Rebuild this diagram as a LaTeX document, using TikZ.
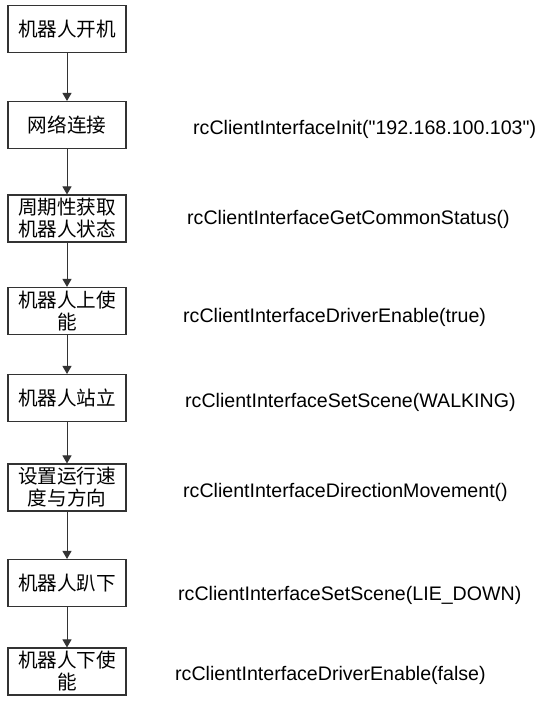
\documentclass[tikz,border=0pt]{standalone}
\usepackage{fontspec}
\setmainfont{Liberation Sans}
\newfontfamily\cjk{Noto Sans CJK SC}
\usetikzlibrary{arrows.meta}
\definecolor{linegray}{HTML}{333333}
\begin{document}
\begin{tikzpicture}[x=1pt,y=-1pt,
  stepbox/.style={draw=linegray, line width=1.1pt, fill=white, minimum width=118pt, minimum height=47pt,
    inner sep=0pt, align=center, font=\cjk\fontsize{19.6pt}{22pt}\selectfont},
  flow/.style={draw=linegray, line width=1pt, -{Triangle[width=9pt,length=8pt]}},
  apilabel/.style={anchor=base west, inner sep=0pt, font=\fontsize{19.6pt}{22pt}\selectfont}]
\useasboundingbox[fill=white] (0,0) rectangle (554,703);
\node[stepbox] (b1) at (67,29) {机器人开机};
\node[stepbox] (b2) at (67,125) {网络连接};
\node[stepbox] (b3) at (67,218.5) {周期性获取\\机器人状态};
\node[stepbox] (b4) at (67,311) {机器人上使\\能};
\node[stepbox] (b5) at (67,398) {机器人站立};
\node[stepbox] (b6) at (67,487.5) {设置运行速\\度与方向};
\node[stepbox] (b7) at (67,583) {机器人趴下};
\node[stepbox] (b8) at (67,671.5) {机器人下使\\能};
\draw[flow] (b1) -- (b2);
\draw[flow] (b2) -- (b3);
\draw[flow] (b3) -- (b4);
\draw[flow] (b4) -- (b5);
\draw[flow] (b5) -- (b6);
\draw[flow] (b6) -- (b7);
\draw[flow] (b7) -- (b8);
\node[apilabel] (l2) at (193,135) {rcClientInterfaceInit(\textquotedbl192.168.100.103\textquotedbl)};
\node[apilabel] (l3) at (187,225) {rcClientInterfaceGetCommonStatus()};
\node[apilabel] (l4) at (183,322) {rcClientInterfaceDriverEnable(true)};
\node[apilabel] (l5) at (185,407) {rcClientInterfaceSetScene(WALKING)};
\node[apilabel] (l6) at (183,497) {rcClientInterfaceDirectionMovement()};
\node[apilabel] (l7) at (178,600) {rcClientInterfaceSetScene(LIE\_DOWN)};
\node[apilabel] (l8) at (175,680) {rcClientInterfaceDriverEnable(false)};
\end{tikzpicture}
\end{document}
